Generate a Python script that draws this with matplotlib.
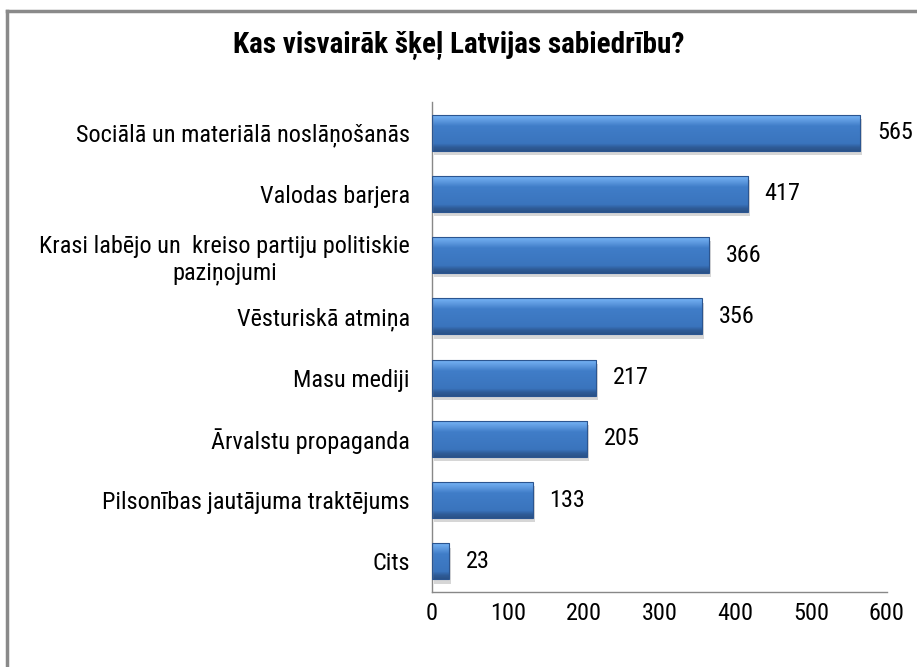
import matplotlib
matplotlib.use("Agg")
import matplotlib.pyplot as plt
import matplotlib.patheffects as pe
from matplotlib import font_manager
import numpy as np

# data
categories = [
    "Sociālā un materiālā noslāņošanās",
    "Valodas barjera",
    "Krasi labējo un  kreiso partiju politiskie\npaziņojumi",
    "Vēsturiskā atmiņa",
    "Masu mediji",
    "Ārvalstu propaganda",
    "Pilsonības jautājuma traktējums",
    "Cits",
]
values = [565, 417, 366, 356, 217, 205, 133, 23]
xticks = [0, 100, 200, 300, 400, 500, 600]
title = "Kas visvairāk šķeļ Latvijas sabiedrību?"

names = {f.name for f in font_manager.fontManager.ttflist}
fam = "DejaVu Sans"
for cand in ["Liberation Sans Narrow", "Roboto Condensed", "Open Sans Condensed", "DejaVu Sans Condensed"]:
    if cand in names:
        fam = cand
        break
plt.rcParams["font.family"] = [fam, "DejaVu Sans"]

fig = plt.figure(figsize=(9.17, 6.67), dpi=100)
ax = fig.add_axes([0.471, 0.1124, 0.496, 0.7346])

y = np.arange(len(categories))
bars = ax.barh(y, values, height=0.59, color="#3a74bd", edgecolor="none",
               zorder=2,
               path_effects=[pe.SimplePatchShadow(offset=(1.5, -3), shadow_rgbFace="#8a8a8a", alpha=0.35),
                             pe.Normal()])

# vertical gradient inside each bar (light top, darker bottom)
grad = np.linspace(0, 1, 100).reshape(-1, 1)
cmap = matplotlib.colors.LinearSegmentedColormap.from_list(
    "bar", [(0.0, "#2f5f9e"), (0.05, "#72aff2"), (0.18, "#5c98de"),
            (0.32, "#407dc8"), (0.8, "#3a74bd"), (0.9, "#2f5c98"), (1.0, "#2a5288")])
for b in bars:
    x0, y0, w, h = b.get_x(), b.get_y(), b.get_width(), b.get_height()
    im = ax.imshow(grad, extent=[x0, x0 + w, y0 + h, y0], aspect="auto",
                   cmap=cmap, zorder=2.5, origin="upper")
    im.set_clip_path(b)
    ax.add_patch(plt.Rectangle((x0, y0), w, h, fill=False, edgecolor="#2b5590",
                               linewidth=0.8, zorder=3))

for yi, v in zip(y, values):
    ax.annotate(str(v), (v, yi), xytext=(12, 0), textcoords="offset points",
                va="center", ha="left", fontsize=17.5, color="black")

ax.set_xlim(0, 600)
ax.set_ylim(len(categories) - 0.5, -0.5)
ax.set_xticks(xticks)
ax.set_xticklabels([str(t) for t in xticks], fontsize=17.5)
ax.set_yticks(y)
ax.set_yticklabels(categories, fontsize=17.5, multialignment="center")
ax.tick_params(axis="both", length=0)
ax.tick_params(axis="x", pad=7)
ax.tick_params(axis="y", pad=16)
for s in ["top", "right"]:
    ax.spines[s].set_visible(False)
for s in ["left", "bottom"]:
    ax.spines[s].set_color("#888888")
    ax.spines[s].set_linewidth(1)

fig.text(0.5, 0.932, title, ha="center", va="center", fontsize=21, fontweight="bold")

# outer frame (top and left edges visible)
fig.add_artist(plt.Line2D([0.0076, 1.0], [0.9835, 0.9835], transform=fig.transFigure,
                          color="#8a8a8a", linewidth=2.5))
fig.add_artist(plt.Line2D([0.0076, 0.0076], [0.0, 0.9835], transform=fig.transFigure,
                          color="#8a8a8a", linewidth=2.5))

fig.savefig("out.png", dpi=100)
